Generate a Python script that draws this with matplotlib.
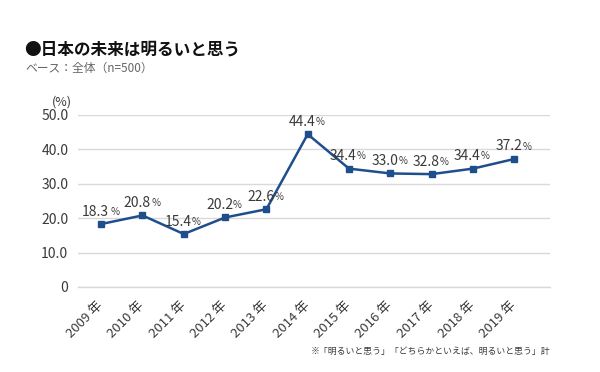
import matplotlib
matplotlib.use('Agg')
import matplotlib.pyplot as plt

plt.rcParams['font.family'] = ['Noto Sans CJK JP', 'DejaVu Sans']

years = ['2009 年', '2010 年', '2011 年', '2012 年', '2013 年', '2014 年',
         '2015 年', '2016 年', '2017 年', '2018 年', '2019 年']
values = [18.3, 20.8, 15.4, 20.2, 22.6, 44.4, 34.4, 33.0, 32.8, 34.4, 37.2]
label_nums = ['18.3', '20.8', '15.4', '20.2', '22.6', '44.4',
              '34.4', '33.0', '32.8', '34.4', '37.2']
label_gap = [' ', ' ', '', '', '', '', '', '', '', '', '']
yticks = [0, 10, 20, 30, 40, 50]
ytick_labels = ['0', '10.0', '20.0', '30.0', '40.0', '50.0']

line_color = '#1f4e8c'
text_color = '#3a3a3a'

fig = plt.figure(figsize=(6, 3.72), dpi=100)
ax = fig.add_axes([0.13, 0.2285, 0.787, 0.4625])

x = list(range(len(years)))
ax.plot(x, values, color=line_color, lw=1.8, marker='s', ms=5,
        mfc=line_color, mec=line_color, zorder=3)

ax.set_xlim(-0.56, 10.87)
ax.set_ylim(0, 50)
ax.set_yticks(yticks)
ax.set_yticklabels(ytick_labels, fontsize=10, color=text_color)
ax.set_xticks(x)
ax.set_xticklabels(years, rotation=45, ha='right', va='center',
                   rotation_mode='anchor', fontsize=9.5, color=text_color)
ax.tick_params(axis='both', length=0)
ax.tick_params(axis='y', pad=7)
ax.tick_params(axis='x', pad=12)
ax.grid(axis='y', color='#d9d9d9', lw=1)
ax.axhline(0, color='#d9d9d9', lw=1, clip_on=False, zorder=1)
ax.set_axisbelow(True)
for s in ax.spines.values():
    s.set_visible(False)

for i, v in enumerate(values):
    t = ax.annotate(label_nums[i], xy=(i, v), xytext=(-4, 9),
                    textcoords='offset points', ha='center', va='center',
                    fontsize=10, color=text_color)
    ax.annotate(label_gap[i] + '%', xy=(1, 0.12), xycoords=t,
                ha='left', va='bottom', fontsize=7, color=text_color)

fig.text(0.04, 0.868, '●日本の未来は明るいと思う', fontsize=12,
         fontweight='bold', color='#111111', va='center')
fig.text(0.042, 0.815, 'ベース：全体（n=500）', fontsize=8.5,
         color='#666666', va='center')
fig.text(0.087, 0.726, '(%)', fontsize=9, color=text_color, va='center')
fig.text(0.917, 0.055, '※「明るいと思う」「どちらかといえば、明るいと思う」計',
         fontsize=6.4, color=text_color, ha='right', va='center')

fig.savefig('out.png', dpi=100, facecolor='white')
